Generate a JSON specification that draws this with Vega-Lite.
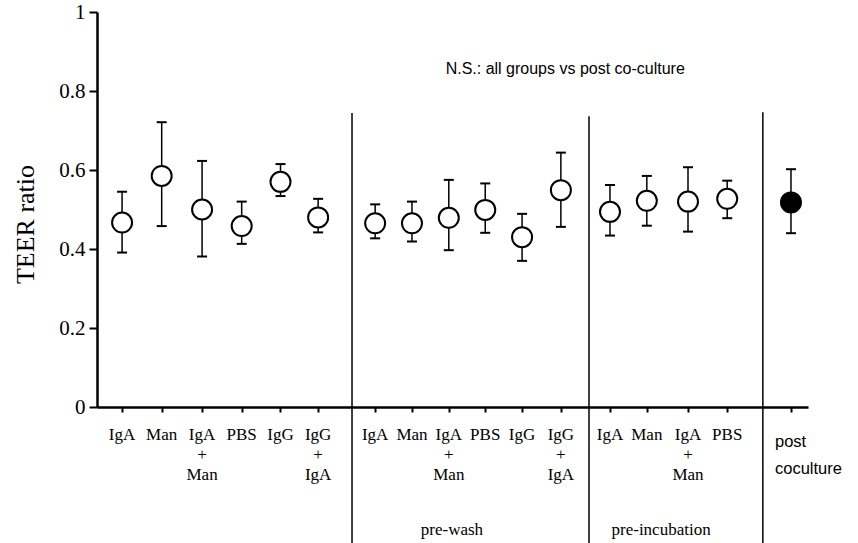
{
  "$schema": "https://vega.github.io/schema/vega-lite/v6.json",
  "width": 711,
  "height": 395,
  "autosize": {"type": "none"},
  "padding": {"left": 97, "top": 12, "right": 50, "bottom": 136},
  "background": "white",
  "config": {
    "view": {"stroke": null},
    "axis": {"grid": false, "domainColor": "black", "tickColor": "black", "labelColor": "black", "titleColor": "black"}
  },
  "datasets": {
    "points": [
      {"group": "control", "label": "IgA", "pos": 1.05, "mean": 0.467, "lo": 0.391, "hi": 0.545},
      {"group": "control", "label": "Man", "pos": 2.05, "mean": 0.585, "lo": 0.458, "hi": 0.721},
      {"group": "control", "label": "IgA\n+\nMan", "pos": 3.07, "mean": 0.500, "lo": 0.381, "hi": 0.623},
      {"group": "control", "label": "PBS", "pos": 4.07, "mean": 0.458, "lo": 0.413, "hi": 0.520},
      {"group": "control", "label": "IgG", "pos": 5.05, "mean": 0.570, "lo": 0.534, "hi": 0.615},
      {"group": "control", "label": "IgG\n+\nIgA", "pos": 6.0, "mean": 0.480, "lo": 0.442, "hi": 0.527},
      {"group": "pre-wash", "label": "IgA", "pos": 7.44, "mean": 0.465, "lo": 0.427, "hi": 0.513},
      {"group": "pre-wash", "label": "Man", "pos": 8.37, "mean": 0.465, "lo": 0.419, "hi": 0.520},
      {"group": "pre-wash", "label": "IgA\n+\nMan", "pos": 9.30, "mean": 0.479, "lo": 0.397, "hi": 0.575},
      {"group": "pre-wash", "label": "PBS", "pos": 10.22, "mean": 0.499, "lo": 0.441, "hi": 0.566},
      {"group": "pre-wash", "label": "IgG", "pos": 11.15, "mean": 0.430, "lo": 0.370, "hi": 0.489},
      {"group": "pre-wash", "label": "IgG\n+\nIgA", "pos": 12.13, "mean": 0.549, "lo": 0.456, "hi": 0.644},
      {"group": "pre-incubation", "label": "IgA", "pos": 13.37, "mean": 0.494, "lo": 0.434, "hi": 0.562},
      {"group": "pre-incubation", "label": "Man", "pos": 14.30, "mean": 0.522, "lo": 0.459, "hi": 0.585},
      {"group": "pre-incubation", "label": "IgA\n+\nMan", "pos": 15.34, "mean": 0.520, "lo": 0.444, "hi": 0.607},
      {"group": "pre-incubation", "label": "PBS", "pos": 16.33, "mean": 0.527, "lo": 0.478, "hi": 0.573},
      {"group": "post coculture", "label": "post\ncoculture", "pos": 17.94, "mean": 0.518, "lo": 0.440, "hi": 0.602}
    ],
    "dividers": [
      {"pos": 6.856, "top": 0.744, "bottom": -0.344},
      {"pos": 12.84, "top": 0.736, "bottom": -0.344},
      {"pos": 17.23, "top": 0.746, "bottom": -0.344}
    ],
    "groupLabels": [
      {"name": "pre-wash", "pos": 9.38, "y": -0.324},
      {"name": "pre-incubation", "pos": 14.66, "y": -0.324}
    ],
    "note": [
      {"text": "N.S.: all groups vs post co-culture", "pos": 9.22, "y": 0.856}
    ]
  },
  "layer": [
    {
      "data": {"name": "dividers"},
      "mark": {"type": "rule", "stroke": "black", "strokeWidth": 1.5},
      "encoding": {
        "x": {"field": "pos", "type": "quantitative", "scale": {"domain": [0.4167, 18.37], "nice": false, "zero": false},
          "axis": {"title": null, "values": [1.05, 2.05, 3.07, 4.07, 5.05, 6.0, 7.44, 8.37, 9.30, 10.22, 11.15, 12.13, 13.37, 14.30, 15.34, 16.33, 17.94],
            "labels": false, "tickSize": 5, "tickWidth": 2, "domainWidth": 2.5, "grid": false}},
        "y": {"field": "top", "type": "quantitative", "scale": {"domain": [0, 1], "nice": false, "zero": false},
          "axis": {"title": "TEER ratio", "values": [0, 0.1, 0.2, 0.3, 0.4, 0.5, 0.6, 0.7, 0.8, 0.9, 1],
            "labelExpr": "round(datum.value*10) % 2 == 0 ? format(datum.value, '~g') : ''",
            "labelFont": "Liberation Serif", "labelFontSize": 21, "labelPadding": 4,
            "tickSize": 8, "tickWidth": 2, "domainWidth": 2.5,
            "titleFont": "Liberation Serif", "titleFontSize": 26, "titleFontWeight": "normal",
            "titleX": -72, "titleY": 212, "titleBaseline": "middle", "titleAngle": -90, "titleAlign": "center"}},
        "y2": {"field": "bottom"}
      }
    },
    {
      "data": {"name": "points"},
      "mark": {"type": "rule", "stroke": "black", "strokeWidth": 1.5},
      "encoding": {
        "x": {"field": "pos", "type": "quantitative", "scale": {"domain": [0.4167, 18.37], "nice": false, "zero": false}},
        "y": {"field": "lo", "type": "quantitative", "scale": {"domain": [0, 1], "nice": false, "zero": false}},
        "y2": {"field": "hi"}
      }
    },
    {
      "data": {"name": "points"},
      "mark": {"type": "tick", "orient": "horizontal", "size": 10, "thickness": 2, "color": "black", "opacity": 1},
      "encoding": {
        "x": {"field": "pos", "type": "quantitative", "scale": {"domain": [0.4167, 18.37], "nice": false, "zero": false}},
        "y": {"field": "lo", "type": "quantitative", "scale": {"domain": [0, 1], "nice": false, "zero": false}}
      }
    },
    {
      "data": {"name": "points"},
      "mark": {"type": "tick", "orient": "horizontal", "size": 10, "thickness": 2, "color": "black", "opacity": 1},
      "encoding": {
        "x": {"field": "pos", "type": "quantitative", "scale": {"domain": [0.4167, 18.37], "nice": false, "zero": false}},
        "y": {"field": "hi", "type": "quantitative", "scale": {"domain": [0, 1], "nice": false, "zero": false}}
      }
    },
    {
      "data": {"name": "points"},
      "mark": {"type": "point", "shape": "circle", "filled": true, "size": 400, "stroke": "black", "strokeWidth": 2, "opacity": 1, "fillOpacity": 1},
      "encoding": {
        "x": {"field": "pos", "type": "quantitative", "scale": {"domain": [0.4167, 18.37], "nice": false, "zero": false}},
        "y": {"field": "mean", "type": "quantitative", "scale": {"domain": [0, 1], "nice": false, "zero": false}},
        "fill": {"condition": {"test": "datum.group === 'post coculture'", "value": "black"}, "value": "white"}
      }
    },
    {
      "data": {"name": "points"},
      "transform": [{"filter": "datum.group !== 'post coculture'"}],
      "mark": {"type": "text", "font": "Liberation Serif", "fontSize": 17, "lineBreak": "\n", "lineHeight": 20, "align": "center", "baseline": "top", "color": "black"},
      "encoding": {
        "x": {"field": "pos", "type": "quantitative", "scale": {"domain": [0.4167, 18.37], "nice": false, "zero": false}},
        "y": {"datum": -0.05, "type": "quantitative", "scale": {"domain": [0, 1], "nice": false, "zero": false}},
        "text": {"field": "label"}
      }
    },
    {
      "data": {"name": "points"},
      "transform": [{"filter": "datum.group === 'post coculture'"}],
      "mark": {"type": "text", "font": "Liberation Sans", "fontSize": 16.5, "lineBreak": "\n", "lineHeight": 27, "align": "left", "baseline": "alphabetic", "dx": -16, "color": "black"},
      "encoding": {
        "x": {"field": "pos", "type": "quantitative", "scale": {"domain": [0.4167, 18.37], "nice": false, "zero": false}},
        "y": {"datum": -0.102, "type": "quantitative", "scale": {"domain": [0, 1], "nice": false, "zero": false}},
        "text": {"field": "label"}
      }
    },
    {
      "data": {"name": "groupLabels"},
      "mark": {"type": "text", "font": "Liberation Serif", "fontSize": 17, "align": "center", "baseline": "alphabetic", "color": "black"},
      "encoding": {
        "x": {"field": "pos", "type": "quantitative", "scale": {"domain": [0.4167, 18.37], "nice": false, "zero": false}},
        "y": {"field": "y", "type": "quantitative", "scale": {"domain": [0, 1], "nice": false, "zero": false}},
        "text": {"field": "name"}
      }
    },
    {
      "data": {"name": "note"},
      "mark": {"type": "text", "font": "Liberation Sans", "fontSize": 16, "align": "left", "baseline": "middle", "color": "black"},
      "encoding": {
        "x": {"field": "pos", "type": "quantitative", "scale": {"domain": [0.4167, 18.37], "nice": false, "zero": false}},
        "y": {"field": "y", "type": "quantitative", "scale": {"domain": [0, 1], "nice": false, "zero": false}},
        "text": {"field": "text"}
      }
    }
  ]
}
